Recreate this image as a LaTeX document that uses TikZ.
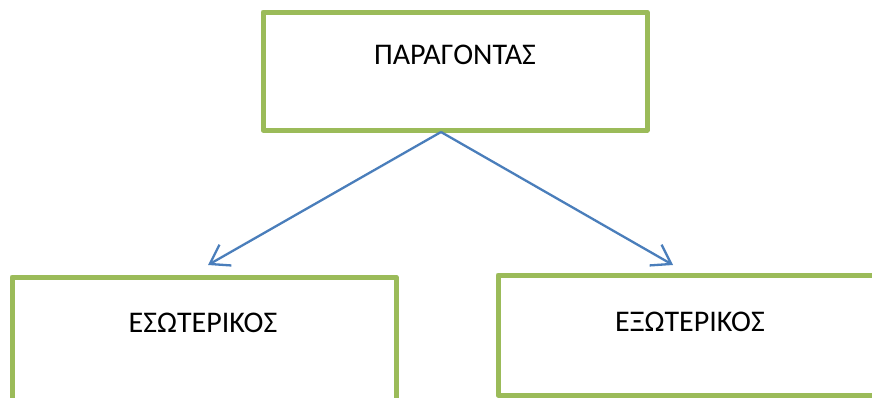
\documentclass[tikz,border=0pt]{standalone}
\usepackage{fontspec}
\setmainfont{Carlito}
\usetikzlibrary{arrows.meta}
\definecolor{boxgreen}{HTML}{9BBB59}
\definecolor{lineblue}{HTML}{4A7EBB}
\begin{document}
\begin{tikzpicture}[x=1pt, y=-1pt, line join=round, >={Straight Barb[length=18pt,width=24pt]},
  factorbox/.style={draw=boxgreen, line width=5pt, rectangle, inner sep=0pt},
  boxtext/.style={font=\fontsize{30}{36}\selectfont, inner sep=0pt},
  link/.style={->, draw=lineblue, line width=2.3pt}]
	\useasboundingbox (0,0) rectangle (872,397);
	% boxes
	\node[factorbox, minimum width=384pt, minimum height=118pt] (top) at (455,71) {};
	\node[factorbox, minimum width=384pt, minimum height=124pt] (inner) at (204,339) {};
	\node[factorbox, minimum width=382pt, minimum height=120pt] (outer) at (689,335) {};
	% texts
	\node[boxtext] (toptext) at (455,55) {ΠΑΡΑΓΟΝΤΑΣ};
	\node[boxtext] (innertext) at (203,323) {ΕΣΩΤΕΡΙΚΟΣ};
	\node[boxtext] (outertext) at (690,322) {ΕΞΩΤΕΡΙΚΟΣ};
	% arrows
	\coordinate (split) at (441,132);
	\coordinate (innertip) at (208,265);
	\coordinate (outertip) at (673,265);
	\draw[link] (split)--(innertip);
	\draw[link] (split)--(outertip);
\end{tikzpicture}
\end{document}
